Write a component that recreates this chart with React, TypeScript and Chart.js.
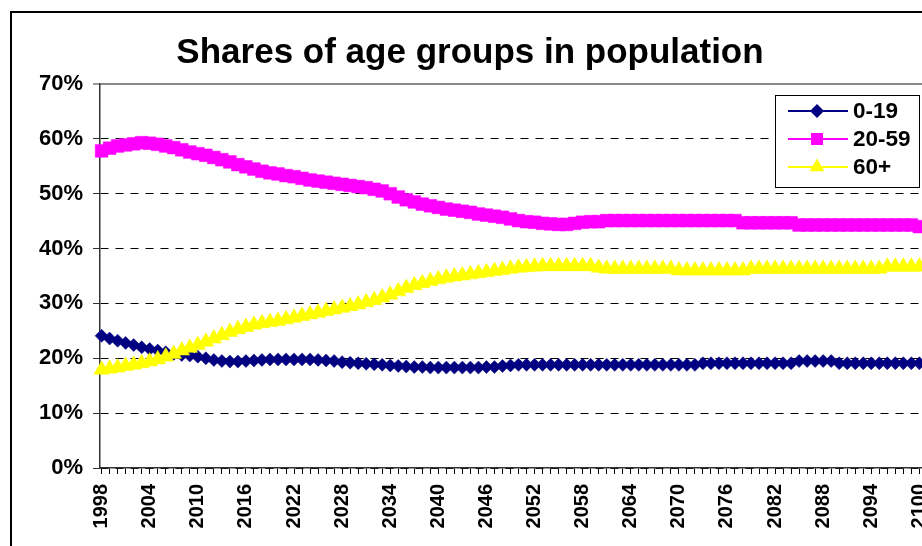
import { useEffect, useRef } from 'react';
import { Chart, registerables } from 'chart.js';

Chart.register(...registerables);

// ---------- data ----------
const years: number[] = [];
for (let y = 1998; y <= 2100; y++) years.push(y);
const labelEvery = 6;
const yTickValues = [0, 10, 20, 30, 40, 50, 60, 70];

const chartTitle = 'Shares of age groups in population';
const seriesNames = ['0-19', '20-59', '60+'];

// 0-19 share (%), 1998..2100
const age0to19 = [
  24.1, 23.6, 23.2, 22.8, 22.4, 22.0, 21.7, 21.4, 21.1, 20.8,
  20.6, 20.5, 20.3, 20.0, 19.7, 19.5, 19.4, 19.4, 19.5, 19.6,
  19.7, 19.8, 19.8, 19.8, 19.8, 19.8, 19.8, 19.7, 19.6, 19.5,
  19.3, 19.2, 19.1, 19.0, 18.9, 18.8, 18.7, 18.6, 18.5, 18.4,
  18.4, 18.3, 18.3, 18.3, 18.3, 18.3, 18.3, 18.3, 18.4, 18.4,
  18.6, 18.7,
  18.8, 18.8, 18.8, 18.8, 18.8, 18.8, 18.8, 18.8, 18.8, 18.8,
  18.8, 18.8, 18.8, 18.8, 18.8, 18.8, 18.8, 18.8, 18.8, 18.8,
  18.8, 18.8, 18.8,
  19.1, 19.1, 19.1, 19.1, 19.1, 19.1, 19.1, 19.1, 19.1, 19.1,
  19.1, 19.1,
  19.5, 19.5, 19.5, 19.5, 19.5,
  19.1, 19.1, 19.1, 19.1, 19.1, 19.1, 19.1, 19.1, 19.1, 19.1,
  19.1,
];

// 20-59 share (%), 1998..2100
const age20to59 = [
  57.8, 58.3, 58.7, 58.9, 59.1, 59.3, 59.2, 59.0, 58.7, 58.4,
  58.0, 57.6, 57.3, 57.0, 56.6, 56.2, 55.8, 55.3, 54.9, 54.5,
  54.1, 53.8, 53.6, 53.3, 53.1, 52.8, 52.5, 52.3, 52.1, 51.9,
  51.7, 51.5, 51.3, 51.1, 50.8, 50.5, 50.0, 49.4, 48.9, 48.5,
  48.1, 47.8, 47.5, 47.2, 47.0, 46.8, 46.6, 46.3, 46.1, 45.9,
  45.7, 45.4, 45.1, 44.9, 44.8, 44.6, 44.5, 44.4, 44.4, 44.6,
  44.8, 44.9, 44.9,
  45.1, 45.1, 45.1, 45.1, 45.1, 45.1, 45.1, 45.1, 45.1, 45.1,
  45.1, 45.1, 45.1, 45.1, 45.1, 45.1, 45.1,
  44.7, 44.7, 44.7, 44.7, 44.7, 44.7, 44.7,
  44.3, 44.3, 44.3, 44.3, 44.3, 44.3, 44.3, 44.3, 44.3, 44.3,
  44.3, 44.3, 44.3, 44.3, 44.3,
  44.0,
];

// 60+ share (%), 1998..2100
const age60plus = [
  17.9, 18.1, 18.3, 18.6, 18.8, 19.1, 19.4, 19.8, 20.3, 20.8,
  21.4, 21.9, 22.4, 23.0, 23.6, 24.2, 24.8, 25.3, 25.7, 26.1,
  26.4, 26.6, 26.8, 27.1, 27.4, 27.7, 28.0, 28.3, 28.6, 28.9,
  29.2, 29.5, 29.8, 30.2, 30.6, 31.1, 31.6, 32.2, 32.8, 33.3,
  33.7, 34.1, 34.4, 34.7, 34.9, 35.1, 35.3, 35.5, 35.7, 35.9,
  36.1, 36.3, 36.5, 36.6, 36.7, 36.8,
  36.8, 36.8, 36.8, 36.8, 36.8, 36.8,
  36.5,
  36.3, 36.3, 36.3, 36.3, 36.3, 36.3, 36.3, 36.3, 36.3,
  36.0, 36.0, 36.0, 36.0, 36.0, 36.0, 36.0, 36.0, 36.0,
  36.3, 36.3, 36.3, 36.3, 36.3, 36.3, 36.3, 36.3, 36.3, 36.3,
  36.3, 36.3, 36.3, 36.3, 36.3, 36.3, 36.3,
  36.7, 36.7, 36.7, 36.7, 36.7,
];

// ---------- styling ----------
const FONT = "'Liberation Sans', Arial, sans-serif";
const colors = ['#000080', '#FF00FF', '#FFFF00'];
const pointStyles = ['rectRot', 'rect', 'triangle'];
const pointRadii = [6.5, 9, 9];

function drawMarker(ctx: CanvasRenderingContext2D, style: string, x: number, y: number, color: string) {
  ctx.fillStyle = color;
  ctx.beginPath();
  if (style === 'rectRot') {
    const r = 7;
    ctx.moveTo(x - r, y);
    ctx.lineTo(x, y - r);
    ctx.lineTo(x + r, y);
    ctx.lineTo(x, y + r);
  } else if (style === 'rect') {
    const h = 6;
    ctx.rect(x - h, y - h, 2 * h, 2 * h);
  } else {
    const r = 8.5;
    ctx.moveTo(x, y - r);
    ctx.lineTo(x + r * Math.sin((2 * Math.PI) / 3), y - r * Math.cos((2 * Math.PI) / 3));
    ctx.lineTo(x + r * Math.sin((4 * Math.PI) / 3), y - r * Math.cos((4 * Math.PI) / 3));
  }
  ctx.closePath();
  ctx.fill();
}

const decorPlugin = {
  id: 'decor',
  beforeDraw(chart: any) {
    const ctx = chart.ctx as CanvasRenderingContext2D;
    ctx.save();
    ctx.fillStyle = '#ffffff';
    ctx.fillRect(0, 0, chart.width, chart.height);
    ctx.restore();
  },
  afterDraw(chart: any) {
    const ctx = chart.ctx as CanvasRenderingContext2D;
    ctx.save();
    // outer chart border
    ctx.strokeStyle = '#000';
    ctx.lineWidth = 2;
    ctx.strokeRect(11, 12, chart.width, chart.height);

    // title
    ctx.fillStyle = '#000';
    ctx.font = `bold 35px ${FONT}`;
    ctx.textAlign = 'center';
    ctx.textBaseline = 'alphabetic';
    ctx.fillText(chartTitle, 470, 63);

    // legend
    const lx = 775.5, ly = 95.5, lw = 144, lh = 92;
    ctx.fillStyle = '#fff';
    ctx.fillRect(lx, ly, lw, lh);
    ctx.strokeStyle = '#000';
    ctx.lineWidth = 1;
    ctx.strokeRect(lx, ly, lw, lh);
    ctx.font = `bold 22.5px ${FONT}`;
    ctx.textAlign = 'left';
    ctx.textBaseline = 'middle';
    seriesNames.forEach((name, i) => {
      const ry = 111 + i * 28;
      ctx.strokeStyle = colors[i];
      ctx.lineWidth = 2;
      ctx.beginPath();
      ctx.moveTo(788, ry);
      ctx.lineTo(848, ry);
      ctx.stroke();
      drawMarker(ctx, pointStyles[i], 817, ry, colors[i]);
      ctx.fillStyle = '#000';
      ctx.fillText(name, 853, ry + 1);
    });
    ctx.restore();
  },
};

export default function App() {
  const canvasRef = useRef<HTMLCanvasElement>(null);

  useEffect(() => {
    const canvas = canvasRef.current;
    if (!canvas) return;
    const series = [age0to19, age20to59, age60plus];
    const orders = [2, 1, 0];
    const chart = new Chart(canvas, {
      type: 'line',
      data: {
        datasets: series.map((vals, i) => ({
          label: seriesNames[i],
          data: years.map((x, j) => ({ x, y: vals[j] })),
          borderColor: colors[i],
          backgroundColor: colors[i],
          borderWidth: 1.5,
          pointStyle: pointStyles[i] as any,
          pointRadius: pointRadii[i],
          pointBorderWidth: 0.5,
          pointBackgroundColor: colors[i],
          pointBorderColor: colors[i],
          tension: 0,
          order: orders[i],
          clip: false as any,
        })),
      },
      options: {
        animation: false,
        responsive: false,
        devicePixelRatio: 1,
        events: [],
        layout: { padding: { left: 14, top: 84, right: 71, bottom: 52 } },
        plugins: {
          legend: { display: false },
          title: { display: false },
          tooltip: { enabled: false },
        },
        scales: {
          x: {
            type: 'linear',
            min: 1997.8,
            max: 2101.2,
            afterBuildTicks: (scale: any) => {
              scale.ticks = years.map((v) => ({ value: v }));
            },
            afterFit: (scale: any) => {
              scale.height = 80;
            },
            ticks: {
              autoSkip: false,
              minRotation: 90,
              maxRotation: 90,
              padding: 10,
              color: '#000',
              font: { family: FONT, size: 20, weight: 'bold' },
              callback: (v: any) => ((Number(v) - years[0]) % labelEvery === 0 ? String(v) : ''),
            },
            grid: {
              drawOnChartArea: false,
              drawTicks: true,
              tickLength: 6,
              tickColor: '#000',
              tickWidth: 1,
            },
            border: { display: true, color: '#333', width: 1.5 },
          },
          y: {
            type: 'linear',
            min: 0,
            max: 70,
            afterBuildTicks: (scale: any) => {
              scale.ticks = yTickValues.map((v) => ({ value: v }));
            },
            afterFit: (scale: any) => {
              scale.width = 86;
            },
            ticks: {
              padding: 10,
              color: '#000',
              font: { family: FONT, size: 22, weight: 'bold' },
              callback: (v: any) => `${v}%`,
            },
            grid: {
              color: (c: any) => (c.tick && c.tick.value === 70 ? '#888' : '#000'),
              lineWidth: (c: any) => (c.tick && c.tick.value === 70 ? 2 : 1),
              tickLength: 7,
              tickColor: '#333',
              tickWidth: 1,
              tickBorderDash: [],
            },
            border: {
              display: true,
              color: '#333',
              width: 1.5,
              dash: (c: any) => (c.tick && c.tick.value === 70 ? [] : [8, 7]),
            },
          },
        },
      },
      plugins: [decorPlugin],
    } as any);
    return () => chart.destroy();
  }, []);

  return (
    <div
      style={{
        position: 'fixed',
        left: 0,
        top: 0,
        width: 922,
        height: 546,
        overflow: 'hidden',
        background: '#fff',
      }}
    >
      <canvas ref={canvasRef} width={1000} height={600} style={{ display: 'block', width: 1000, height: 600 }} />
    </div>
  );
}
